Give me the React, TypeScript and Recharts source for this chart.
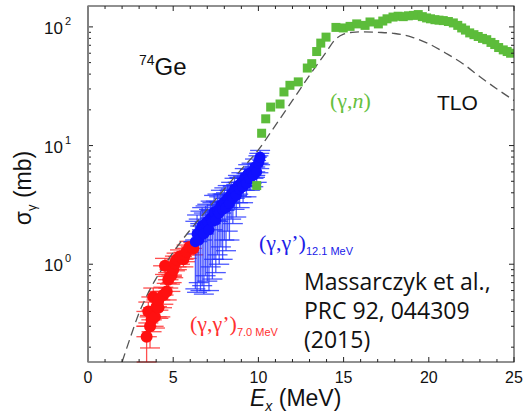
import React from "react";
import { ComposedChart, Scatter, Line, XAxis, YAxis, ErrorBar } from "recharts";

// TLO curve
const tloE = [2, 2.5, 3, 3.5, 4, 4.5, 5, 5.5, 6, 7, 8, 9, 10, 11, 12, 13, 14, 14.5, 15, 15.5, 16, 17, 18, 19, 20, 21, 22, 23, 24, 25];
const tloSigma = [0.15, 0.245, 0.39, 0.56, 0.76, 0.98, 1.26, 1.58, 1.95, 2.9, 4.3, 6.3, 9.2, 14.8, 24, 39, 62, 78, 87, 90, 91, 90, 88, 82, 72, 60, 49, 38, 30, 24];

// (gamma,n)
const greenE = [9.9, 10.19, 10.43, 10.72, 11.27, 11.5, 11.85, 12.34, 12.87, 13.13, 13.42, 13.66, 13.97, 14.55, 14.98, 15.38, 15.77, 16.26, 16.55, 17.04, 17.3, 17.55, 17.9, 18.2, 18.5, 18.8, 19.1, 19.38, 19.62, 19.87, 20.1, 20.36, 20.6, 20.85, 21.15, 21.44, 21.7, 21.93, 22.15, 22.4, 22.65, 22.9, 23.15, 23.4, 23.65, 23.87, 24.1, 24.37, 24.6, 24.8];
const greenSigma = [4.6, 12.7, 16.8, 21.1, 22.4, 28.3, 32.2, 34.4, 45, 49, 62, 73, 82, 99, 98, 101, 106, 103, 110, 106, 112, 117, 121, 123, 122, 124, 125, 127, 122, 119, 117, 115, 114, 113, 111, 108, 103, 98, 94, 89, 86, 83, 80, 78, 74, 71, 67, 64, 62, 60];

// (gamma,gamma') 12.1 MeV
const blueE = [6.3, 6.4, 6.5, 6.6, 6.7, 6.8, 6.9, 7.0, 7.1, 7.2, 7.3, 7.4, 7.5, 7.6, 7.7, 7.8, 7.9, 8.0, 8.1, 8.2, 8.3, 8.4, 8.5, 8.6, 8.7, 8.8, 8.9, 9.0, 9.1, 9.2, 9.3, 9.4, 9.5, 9.6, 9.7, 9.8, 9.9, 10.0, 10.05, 10.1];
const blueSigma = [1.55, 1.8, 1.6, 1.95, 2.1, 1.8, 2.2, 2.3, 1.95, 2.45, 2.3, 2.75, 2.35, 2.85, 2.7, 3.15, 2.9, 3.35, 3.0, 3.6, 3.25, 3.9, 3.6, 4.3, 3.8, 4.6, 4.3, 4.9, 4.5, 5.4, 4.8, 5.8, 5.3, 6.0, 5.6, 6.6, 6.0, 7.1, 7.5, 8.0];
const blueDE = [0.7, 0.6, 0.8, 0.5, 0.7, 0.6, 0.9, 0.5, 0.8, 0.6, 0.9, 0.7, 0.6, 1.0, 0.7, 0.8, 0.6, 0.9, 0.7, 0.8, 0.6, 1.0, 0.7, 0.8, 0.6, 0.9, 0.7, 0.8, 0.6, 0.9, 0.7, 0.6, 0.8, 0.5, 0.7, 0.6, 0.5, 0.6, 0.4, 0.4];
const blueLow = [0.62, 0.58, 0.7, 0.6, 0.66, 0.56, 0.8, 0.72, 0.6, 0.95, 0.75, 1.1, 0.85, 1.2, 1.0, 1.4, 1.1, 1.6, 1.3, 1.9, 1.6, 2.4, 2.2, 2.9, 2.5, 3.3, 3.0, 3.7, 3.3, 4.2, 3.7, 4.6, 4.2, 4.8, 4.5, 5.4, 4.9, 5.9, 6.4, 6.9];
const blueHigh = [2.3, 2.6, 2.4, 2.8, 3.0, 2.7, 3.1, 3.2, 2.9, 3.4, 3.3, 3.8, 3.4, 3.9, 3.7, 4.2, 3.9, 4.4, 4.0, 4.6, 4.2, 4.9, 4.5, 5.3, 4.7, 5.6, 5.3, 5.9, 5.5, 6.4, 5.8, 6.9, 6.3, 7.1, 6.6, 7.7, 7.0, 8.2, 8.6, 9.1];

// (gamma,gamma') 7.0 MeV
const redE = [3.44, 3.54, 3.64, 3.73, 3.83, 3.93, 4.03, 4.13, 4.13, 4.42, 4.52, 4.62, 4.71, 4.81, 4.91, 5.0, 5.1, 5.2, 5.4, 5.6, 5.69, 5.79, 5.95, 6.18];
const redSigma = [0.245, 0.4, 0.3, 0.34, 0.53, 0.36, 0.44, 0.43, 0.5, 0.55, 0.97, 0.59, 0.74, 0.79, 0.81, 0.9, 1.02, 1.09, 1.16, 1.1, 1.2, 1.28, 1.4, 1.36];
const redDE = [0.6, 0.7, 0.8, 0.6, 0.7, 0.9, 0.6, 0.8, 0.7, 0.6, 0.7, 0.8, 0.6, 0.7, 0.6, 0.8, 0.7, 0.6, 0.7, 0.6, 0.7, 0.6, 0.5, 0.5];
const redLow = [0.15, 0.32, 0.197, 0.27, 0.43, 0.29, 0.36, 0.35, 0.41, 0.46, 0.82, 0.5, 0.63, 0.68, 0.7, 0.77, 0.88, 0.95, 1.0, 0.95, 1.05, 1.12, 1.25, 1.2];
const redHigh = [0.3, 0.48, 0.37, 0.41, 0.63, 0.43, 0.52, 0.51, 0.59, 0.64, 1.12, 0.69, 0.85, 0.9, 0.93, 1.03, 1.17, 1.24, 1.32, 1.26, 1.36, 1.45, 1.56, 1.52];

const xTicks = Array.from({ length: 26 }, (_, i) => i);
const yMajor = [1, 10, 100];
const yTicks = [0.2, 0.3, 0.4, 0.5, 0.6, 0.7, 0.8, 0.9, 1, 2, 3, 4, 5, 6, 7, 8, 9, 10, 20, 30, 40, 50, 60, 70, 80, 90, 100];

const W = 523;
const H = 414;
const PLOT = { left: 88, top: 6, right: 514, bottom: 362 };
const FONT = "'Liberation Sans', Arial, sans-serif";
const SERIF = "'Liberation Serif', 'Times New Roman', serif";

const tloData = tloE.map((x, i) => ({ x, y: tloSigma[i] }));
const greenData = greenE.map((x, i) => ({ x, y: greenSigma[i] }));
const blueData = blueE.map((x, i) => ({
  x,
  y: blueSigma[i],
  ex: blueDE[i],
  ey: [blueSigma[i] - blueLow[i], blueHigh[i] - blueSigma[i]],
}));
const redData = redE.map((x, i) => ({
  x,
  y: redSigma[i],
  ex: redDE[i],
  ey: [redSigma[i] - redLow[i], redHigh[i] - redSigma[i]],
}));

const dot = (color: string, r: number) => (p: any) =>
  <circle cx={p.cx} cy={p.cy} r={r} fill={color} />;
const square = (color: string, s: number) => (p: any) =>
  <rect x={p.cx - s / 2} y={p.cy - s / 2} width={s} height={s} fill={color} />;

function XTick(props: any) {
  const { x, y, payload } = props;
  const v = payload.value;
  const major = v % 5 === 0;
  const len = major ? 5 : 3;
  return (
    <g>
      <line x1={x} x2={x} y1={y} y2={y - len} stroke="#222" />
      <line x1={x} x2={x} y1={PLOT.top} y2={PLOT.top + len} stroke="#222" />
      {major && (
        <text x={x} y={y + 21} textAnchor="middle" fontSize={16} fontFamily={FONT} fill="#111">
          {v}
        </text>
      )}
    </g>
  );
}

function YTick(props: any) {
  const { x, y, payload } = props;
  const v = payload.value;
  const major = yMajor.includes(v);
  const len = major ? 5 : 3;
  return (
    <g>
      <line x1={x} x2={x + len} y1={y} y2={y} stroke="#222" />
      <line x1={PLOT.right} x2={PLOT.right - len} y1={y} y2={y} stroke="#222" />
      {major && (
        <g fontFamily={FONT} fill="#111">
          <text x={x - 25} y={y + 7} textAnchor="end" fontSize={17}>
            10
          </text>
          <text x={x - 23} y={y - 2} fontSize={11}>
            {Math.round(Math.log10(v))}
          </text>
        </g>
      )}
    </g>
  );
}

function Overlay() {
  return (
    <svg
      width={W}
      height={H}
      style={{ position: "absolute", left: 0, top: 0, pointerEvents: "none" }}
    >
      <rect
        x={PLOT.left}
        y={PLOT.top}
        width={PLOT.right - PLOT.left}
        height={PLOT.bottom - PLOT.top}
        fill="none"
        stroke="#222"
        strokeWidth={1}
      />
      <line x1={PLOT.left} x2={PLOT.left} y1={PLOT.top} y2={PLOT.bottom} stroke="#808080" strokeWidth={2} />

      {/* axis titles */}
      <text
        x={31}
        y={188}
        transform="rotate(-90, 31, 188)"
        textAnchor="middle"
        fontSize={23}
        fontFamily={FONT}
        fill="#111"
      >
        σ<tspan fontSize={13} dy={5}>γ</tspan>
        <tspan dy={-5}> (mb)</tspan>
      </text>
      <text x={250} y={406} fontSize={23} fontFamily={FONT} fill="#111">
        <tspan fontStyle="italic">E</tspan>
        <tspan fontSize={14} dy={5} fontStyle="italic">x</tspan>
        <tspan dy={-5}> (MeV)</tspan>
      </text>

      {/* annotations */}
      <text x={139} y={75} fontSize={24} fontFamily={FONT} fill="#111">
        <tspan fontSize={14} dy={-10}>74</tspan>
        <tspan dy={10}>Ge</tspan>
      </text>
      <text x={330} y={108} fontSize={22} fontFamily={SERIF} fill="#66c040">
        (γ,<tspan fontStyle="italic">n</tspan>)
      </text>
      <text x={437} y={110} fontSize={21} fontFamily={FONT} fill="#111">
        TLO
      </text>
      <text x={259} y={250} fontSize={22} fontFamily={SERIF} fill="#2020e8">
        (γ,γ’)
        <tspan fontSize={11} fontFamily={FONT} dy={5}>12.1 MeV</tspan>
      </text>
      <text x={190} y={331} fontSize={22} fontFamily={SERIF} fill="#ff3030">
        (γ,γ’)
        <tspan fontSize={11} fontFamily={FONT} dy={5}>7.0 MeV</tspan>
      </text>
      <g fontFamily="'Open Sans', sans-serif" fontSize={23} fill="#111">
        <text x={304} y={290}>Massarczyk et al.,</text>
        <text x={304} y={319}>PRC 92, 044309</text>
        <text x={304} y={348}>(2015)</text>
      </g>
    </svg>
  );
}

export default function App() {
  return (
    <div style={{ position: "absolute", left: 0, top: 0, width: W, height: H, background: "#fff" }}>
      <ComposedChart width={W} height={H} margin={{ top: PLOT.top, right: W - PLOT.right, bottom: 0, left: 0 }}>
        <XAxis
          dataKey="x"
          type="number"
          domain={[0, 25]}
          allowDataOverflow
          ticks={xTicks}
          interval={0}
          height={H - PLOT.bottom}
          tickSize={0}
          tickMargin={0}
          axisLine={false}
          tickLine={false}
          tick={<XTick />}
        />
        <YAxis
          dataKey="y"
          type="number"
          scale="log"
          domain={[0.15, 150]}
          allowDataOverflow
          ticks={yTicks}
          interval={0}
          width={PLOT.left}
          tickSize={0}
          tickMargin={0}
          axisLine={false}
          tickLine={false}
          tick={<YTick />}
        />
        <Scatter data={redData} fill="#ff1010" shape={dot("#ff1010", 6)} isAnimationActive={false}>
          <ErrorBar dataKey="ex" direction="x" width={0} stroke="#ff3030" strokeOpacity={0.85} strokeWidth={1.3} />
          <ErrorBar dataKey="ey" direction="y" width={10} stroke="#ff3030" strokeOpacity={0.85} strokeWidth={1.3} />
        </Scatter>
        <Scatter data={blueData} fill="#1010ff" shape={dot("#1010ff", 5.5)} isAnimationActive={false}>
          <ErrorBar dataKey="ex" direction="x" width={0} stroke="#2030ff" strokeOpacity={0.85} strokeWidth={1.3} />
          <ErrorBar dataKey="ey" direction="y" width={10} stroke="#2030ff" strokeOpacity={0.8} strokeWidth={1.3} />
        </Scatter>
        <Scatter data={greenData} fill="#5cbc3a" shape={square("#5cbc3a", 9)} isAnimationActive={false} />
        <Line
          data={tloData}
          dataKey="y"
          type="monotone"
          stroke="#555"
          strokeWidth={1.3}
          strokeDasharray="9 5"
          dot={false}
          isAnimationActive={false}
        />
      </ComposedChart>
      <Overlay />
    </div>
  );
}
